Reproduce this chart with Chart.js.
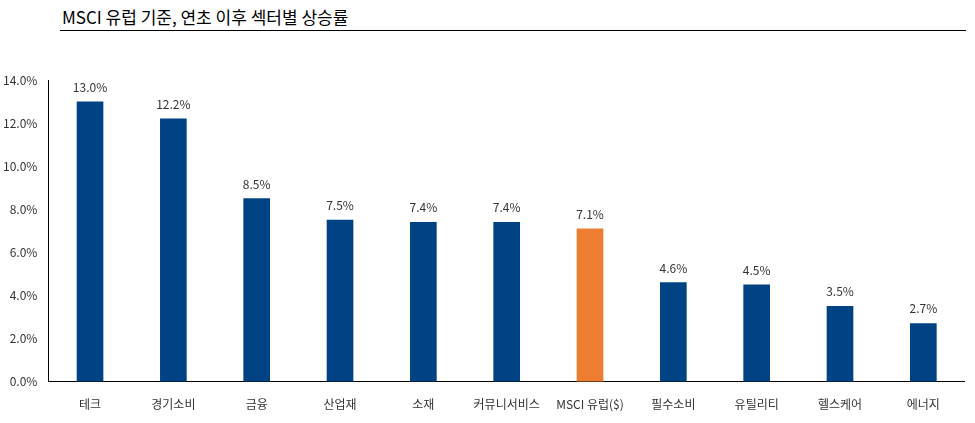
<!DOCTYPE html>
<html><head><meta charset="utf-8">
<script src="https://cdn.jsdelivr.net/npm/chart.js@4"></script>
<style>
body{margin:0;background:#fff;font-family:"Noto Sans CJK KR",sans-serif}
#title{position:absolute;left:62px;top:4px;font-size:17px;color:#000}
#rule{position:absolute;left:60px;top:30px;width:906px;border-top:1px solid #000}
#wrap{position:absolute;left:0;top:70px;width:965px;height:350px}
</style></head><body>
<div id="title">MSCI 유럽 기준, 연초 이후 섹터별 상승률</div>
<div id="rule"></div>
<div id="wrap"><canvas id="c"></canvas></div>
<script>
const labels = ['테크','경기소비','금융','산업재','소재','커뮤니서비스','MSCI 유럽($)','필수소비','유틸리티','헬스케어','에너지'];
const values = [13.0,12.2,8.5,7.5,7.4,7.4,7.1,4.6,4.5,3.5,2.7];
const highlight = 'MSCI 유럽($)';

const colors = labels.map(l => l === highlight ? '#ED7D31' : '#004385');

new Chart(document.getElementById('c'), {
    type: 'bar',
    data: {labels: labels, datasets: [{data: values, backgroundColor: colors, barThickness: 26}]},
    options: {
        responsive: true, maintainAspectRatio: false, animation: false,
        layout: {padding: {top: 10, right: 0}},
        plugins: {legend: {display: false}, tooltip: {enabled: false}},
        scales: {
            x: {grid: {display: false, drawTicks: true}, border: {color: '#000'},
                ticks: {color: '#333', font: {size: 12, family: 'Noto Sans CJK KR'}, padding: 8}},
            y: {min: 0, max: 14, grid: {display: false}, border: {color: '#000'},
                ticks: {stepSize: 2, color: '#333', font: {size: 12, family: 'Noto Sans CJK KR'},
                    callback: v => v.toFixed(1) + '%'}}
        }
    },
    plugins: [{
        id: 'vals',
        afterDatasetsDraw(chart) {
            const c = chart.ctx;
            c.save();
            c.font = '12px "Noto Sans CJK KR"';
            c.fillStyle = '#333';
            c.textAlign = 'center';
            chart.getDatasetMeta(0).data.forEach((b, i) => {
                c.fillText(values[i].toFixed(1) + '%', b.x, b.y - 10);
            });
            c.restore();
        }
    }]
});
</script>
</body></html>
